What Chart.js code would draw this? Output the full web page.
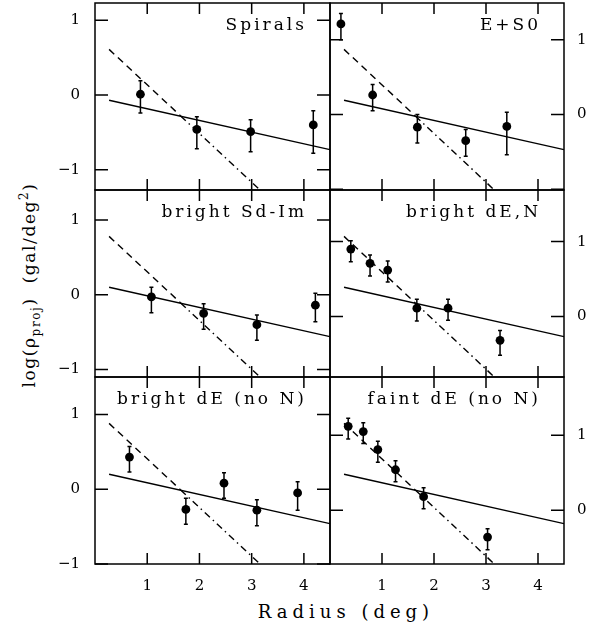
<!DOCTYPE html>
<html>
<head>
<meta charset="utf-8">
<script src="https://cdn.jsdelivr.net/npm/chart.js@4.4.0/dist/chart.umd.min.js"></script>
<style>
  html, body { margin: 0; padding: 0; background: #fff; }
  #fig { position: relative; width: 592px; height: 628px; overflow: hidden; background: #fff; }
  #fig canvas { position: absolute; }
  .axis-title { position: absolute; font-family: "DejaVu Serif", serif; font-size: 17px; color: #000; white-space: nowrap; }
  .axis-title sub, .axis-title sup { font-size: 12px; }
  #ytitle { left: 30px; top: 285px; letter-spacing: 1.6px; transform: translate(-50%, -50%) rotate(-90deg); }
  #xtitle { left: 346px; top: 611px; font-size: 18px; letter-spacing: 5px; transform: translate(-50%, -50%); }
</style>
</head>
<body>
<div id="fig">
  <div class="axis-title" id="ytitle">log(&rho;<sub>proj</sub>)&nbsp;&nbsp;(gal/deg<sup>2</sup>)</div>
  <div class="axis-title" id="xtitle">Radius (deg)</div>
</div>
<script>
// one entry per panel: top-left, top-right, middle-left, ...
const panelLabels = ["Spirals", "E+S0", "bright Sd-Im", "bright dE,N", "bright dE (no N)", "faint dE (no N)"];

const radius = [
  [0.87, 1.95, 2.98, 4.18],
  [0.21, 0.82, 1.68, 2.61, 3.40],
  [1.08, 2.08, 3.10, 4.22],
  [0.40, 0.77, 1.11, 1.67, 2.27, 3.27],
  [0.66, 1.74, 2.47, 3.10, 3.88],
  [0.35, 0.64, 0.92, 1.26, 1.80, 3.03]
];
const logDensity = [
  [0.01, -0.46, -0.49, -0.40],
  [1.21, 0.26, -0.17, -0.35, -0.16],
  [-0.03, -0.25, -0.40, -0.14],
  [0.90, 0.71, 0.62, 0.11, 0.11, -0.32],
  [0.43, -0.27, 0.08, -0.28, -0.05],
  [1.12, 1.05, 0.81, 0.54, 0.18, -0.36]
];
const errUp = [
  [0.18, 0.17, 0.16, 0.19],
  [0.14, 0.14, 0.17, 0.15, 0.19],
  [0.13, 0.13, 0.13, 0.16],
  [0.11, 0.11, 0.12, 0.12, 0.12, 0.13],
  [0.14, 0.15, 0.14, 0.14, 0.15],
  [0.11, 0.12, 0.11, 0.12, 0.12, 0.11]
];
const errDown = [
  [0.25, 0.26, 0.27, 0.38],
  [0.21, 0.21, 0.21, 0.21, 0.38],
  [0.21, 0.21, 0.21, 0.22],
  [0.17, 0.17, 0.16, 0.17, 0.16, 0.20],
  [0.20, 0.20, 0.20, 0.21, 0.23],
  [0.17, 0.16, 0.17, 0.16, 0.16, 0.17]
];

// solid fit: start and end
const shallowFit = [
  [[0.27, -0.07], [4.5, -0.73]],
  [[0.27, 0.19], [4.5, -0.47]],
  [[0.27, 0.10], [4.5, -0.56]],
  [[0.27, 0.39], [4.5, -0.27]],
  [[0.27, 0.20], [4.5, -0.46]],
  [[0.27, 0.48], [4.5, -0.18]]
];
// steep fit: start, where it crosses the solid line (dashed -> dash-dot), end
const steepFit = [
  [[0.27, 0.61], [1.64, -0.28], [3.16, -1.27]],
  [[0.27, 0.87], [1.64, -0.02], [3.16, -1.01]],
  [[0.27, 0.78], [1.64, -0.11], [3.16, -1.10]],
  [[0.27, 1.07], [1.64, 0.18], [3.16, -0.81]],
  [[0.27, 0.88], [1.64, -0.01], [3.16, -1.00]],
  [[0.27, 1.16], [1.64, 0.27], [3.16, -0.72]]
];

const yMin = [-1.27, -1.01, -1.10, -0.81, -1.00, -0.72];
const yMax = [1.23, 1.49, 1.40, 1.69, 1.50, 1.78];
const xMin = 0;
const xMax = 4.5;
const xTickValues = [1, 2, 3, 4];
const yTickValues = [-1, 0, 1];
const rightLabelValues = [0, 1];

// layout of the grid
const colLeft = [95, 330];
const colWidth = [235, 234];
const rowTop = [3, 190, 377];
const rowHeight = 187;
const M = 50;
const X_TICK = 11;
const Y_TICK = 13;
const tickFont = { family: "DejaVu Serif", size: 15 };

const fmt = (v) => (v < 0 ? "\u2212" + Math.abs(v) : String(v));

const errorBars = {
  id: "errorBars",
  afterDatasetsDraw(chart, args, opts) {
    const { ctx } = chart;
    const xs = chart.scales.x, ys = chart.scales.y;
    ctx.save();
    ctx.strokeStyle = "#000";
    ctx.lineWidth = 1.5;
    ctx.beginPath();
    opts.x.forEach((x, i) => {
      const px = xs.getPixelForValue(x);
      const top = ys.getPixelForValue(opts.y[i] + opts.up[i]);
      const bot = ys.getPixelForValue(opts.y[i] - opts.down[i]);
      ctx.moveTo(px, top); ctx.lineTo(px, bot);
      ctx.moveTo(px - 2, top); ctx.lineTo(px + 2, top);
      ctx.moveTo(px - 2, bot); ctx.lineTo(px + 2, bot);
    });
    ctx.stroke();
    ctx.restore();
  }
};

const frameTicks = {
  id: "frameTicks",
  afterDatasetsDraw(chart) {
    const { ctx, chartArea: a, scales } = chart;
    ctx.save();
    ctx.strokeStyle = "#000";
    ctx.lineWidth = 1.5;
    ctx.beginPath();
    scales.x.ticks.forEach((t) => {
      const px = scales.x.getPixelForValue(t.value);
      ctx.moveTo(px, a.bottom); ctx.lineTo(px, a.bottom - X_TICK);
      ctx.moveTo(px, a.top); ctx.lineTo(px, a.top + X_TICK);
    });
    scales.y.ticks.forEach((t) => {
      const py = scales.y.getPixelForValue(t.value);
      ctx.moveTo(a.left, py); ctx.lineTo(a.left + Y_TICK, py);
      ctx.moveTo(a.right, py); ctx.lineTo(a.right - Y_TICK, py);
    });
    ctx.stroke();
    ctx.strokeRect(a.left, a.top, a.width, a.height);
    ctx.restore();
  }
};

const panelTitle = {
  id: "panelTitle",
  afterDraw(chart, args, opts) {
    const { ctx, chartArea: a } = chart;
    ctx.save();
    ctx.fillStyle = "#000";
    ctx.font = '17px "DejaVu Serif"';
    ctx.letterSpacing = "3px";
    ctx.textAlign = "right";
    ctx.textBaseline = "alphabetic";
    ctx.fillText(opts.text, a.right - 23, a.top + 27);
    ctx.restore();
  }
};

const fig = document.getElementById("fig");

panelLabels.forEach((label, i) => {
  const col = i % 2, row = Math.floor(i / 2);
  const canvas = document.createElement("canvas");
  canvas.width = colWidth[col] + 2 * M;
  canvas.height = rowHeight + 2 * M;
  canvas.style.left = colLeft[col] - M + "px";
  canvas.style.top = rowTop[row] - M + "px";
  fig.appendChild(canvas);

  const points = radius[i].map((x, k) => ({ x: x, y: logDensity[i][k] }));
  const solid = shallowFit[i].map((p) => ({ x: p[0], y: p[1] }));
  const dashed = steepFit[i].slice(0, 2).map((p) => ({ x: p[0], y: p[1] }));
  const dashDot = steepFit[i].slice(1).map((p) => ({ x: p[0], y: p[1] }));

  const lineSet = (data, dash) => ({
    type: "line", data: data, borderColor: "#000", borderWidth: 1.4,
    borderDash: dash, pointRadius: 0, fill: false, tension: 0
  });

  const yTicksFor = (s) => {
    s.ticks = yTickValues.filter((v) => v >= s.min - 1e-9 && v <= s.max + 1e-9).map((v) => ({ value: v }));
  };

  new Chart(canvas, {
    type: "scatter",
    data: {
      datasets: [
        { data: points, pointRadius: 4.4, pointBackgroundColor: "#000", pointBorderWidth: 0, order: 0 },
        lineSet(solid, []),
        lineSet(dashed, [7, 5]),
        lineSet(dashDot, [7, 4, 1.5, 4])
      ]
    },
    options: {
      responsive: false,
      animation: false,
      devicePixelRatio: 1,
      layout: { padding: 0 },
      events: [],
      plugins: {
        legend: { display: false },
        tooltip: { enabled: false },
        errorBars: { x: radius[i], y: logDensity[i], up: errUp[i], down: errDown[i] },
        panelTitle: { text: label }
      },
      scales: {
        x: {
          type: "linear", position: "bottom", min: xMin, max: xMax,
          afterBuildTicks: (s) => { s.ticks = xTickValues.map((v) => ({ value: v })); },
          afterFit: (s) => { s.height = M; },
          grid: { display: false, drawTicks: false }, border: { display: false },
          ticks: { display: row === 2, font: tickFont, color: "#000", padding: 13, maxRotation: 0 }
        },
        xTop: {
          type: "linear", position: "top", min: xMin, max: xMax,
          afterFit: (s) => { s.height = M; },
          grid: { display: false, drawTicks: false }, border: { display: false },
          ticks: { display: false }
        },
        y: {
          type: "linear", position: "left", min: yMin[i], max: yMax[i],
          afterBuildTicks: yTicksFor,
          afterFit: (s) => { s.width = M; },
          grid: { display: false, drawTicks: false }, border: { display: false },
          ticks: { display: col === 0, font: tickFont, color: "#000", padding: 15, callback: (v) => fmt(v) }
        },
        yRight: {
          type: "linear", position: "right", min: yMin[i], max: yMax[i],
          afterBuildTicks: yTicksFor,
          afterFit: (s) => { s.width = M; },
          grid: { display: false, drawTicks: false }, border: { display: false },
          ticks: {
            display: col === 1, font: tickFont, color: "#000", padding: 13,
            callback: (v) => (rightLabelValues.includes(v) ? fmt(v) : "")
          }
        }
      }
    },
    plugins: [errorBars, frameTicks, panelTitle]
  });
});
</script>
</body>
</html>
